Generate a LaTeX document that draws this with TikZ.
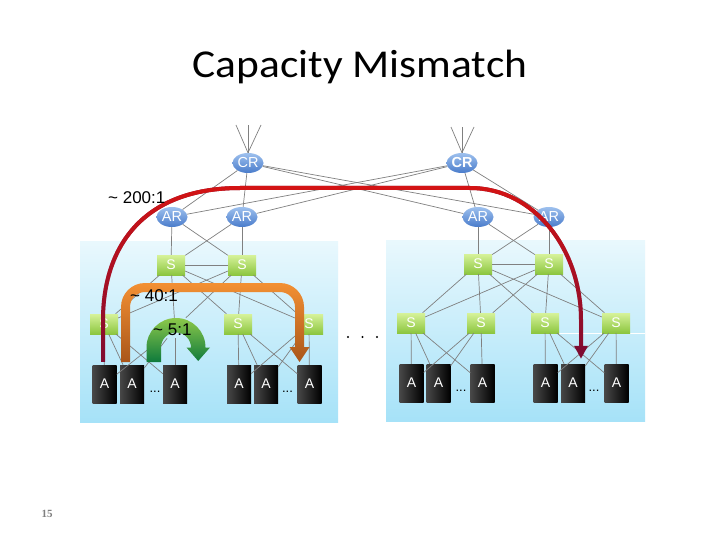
\documentclass[tikz,border=0pt]{standalone}
\usepackage{fontspec}
\usepackage{graphicx}
\setmainfont{Liberation Sans}
\newfontfamily\titlefont{Carlito}
\newfontfamily\numfont{Liberation Serif}
\usetikzlibrary{shapes.geometric,arrows.meta,fadings}
\definecolor{crtop}{HTML}{9DC0EE}
\definecolor{crbot}{HTML}{4A7CCB}
\definecolor{stop}{HTML}{D6F29A}
\definecolor{sbot}{HTML}{8CC63F}
\definecolor{linkgray}{HTML}{808080}
\definecolor{boxtop}{HTML}{E9F8FD}
\definecolor{boxbot}{HTML}{A6E2F8}
\definecolor{redtop}{HTML}{D41414}
\definecolor{maroon}{HTML}{7E0C32}
\definecolor{orangetop}{HTML}{F39033}
\definecolor{orangebot}{HTML}{A9561A}
\definecolor{greentop}{HTML}{8CC84A}
\definecolor{greenbot}{HTML}{0E7A3C}
\tikzfading[name=redfade, top color=transparent!0, middle color=transparent!20, bottom color=transparent!100]
\begin{document}
\begin{tikzpicture}[x=1pt,y=-1pt,
  router/.style={ellipse, minimum width=31pt, minimum height=20pt, inner sep=0pt,
     top color=crtop, bottom color=crbot, text=white, font=\fontsize{14.5}{14.5}\selectfont},
  sw/.style={rectangle, minimum width=28pt, minimum height=20pt, inner sep=0pt,
     top color=stop, bottom color=sbot, text=white, font=\fontsize{14}{14}\selectfont},
  host/.style={rectangle, minimum width=24pt, minimum height=38pt, inner sep=0pt,
     left color=black!72, right color=black, text=white, font=\fontsize{14}{14}\selectfont},
  hidden/.style={rectangle, minimum width=28pt, minimum height=20pt, inner sep=0pt},
  link/.style={draw=linkgray, line width=0.7pt},
  ratio/.style={anchor=west, inner sep=0pt, font=\fontsize{17}{17}\selectfont},
  dots/.style={anchor=base, inner sep=0pt, font=\fontsize{13}{13}\selectfont}]
\useasboundingbox (0,0) rectangle (720,540);
\fill[white] (0,0) rectangle (720,540);

% title and page number
\node[anchor=base, inner sep=0pt, font=\titlefont\fontsize{39.5}{39.5}\selectfont] (title) at (360,78) {\scalebox{1.1}[1]{Capacity Mismatch}};
\node[inner sep=0pt, text=gray, font=\numfont\bfseries\fontsize{11}{11}\selectfont] (pnum) at (47,514) {15};

% pods
\shade[top color=boxtop, bottom color=boxbot] (80,241) rectangle (338,422);
\shade[top color=boxtop, bottom color=boxbot] (386,240) rectangle (645,421);
\draw[white, line width=0.8pt] (543,333) -- (645,333);

% routers
\node[router] (CR1) at (248,163) {CR};
\node[router] (CR2) at (462,163) {\bfseries CR};
\node[router] (AR1) at (172,217) {AR};
\node[router] (AR2) at (242,217) {AR};
\node[router] (AR3) at (478,217) {AR};
\node[router] (AR4) at (549,217) {AR};
% aggregation switches
\node[sw] (SA1) at (171,265) {S};
\node[sw] (SA2) at (242,265) {S};
\node[sw] (SA3) at (478,264) {S};
\node[sw] (SA4) at (549,264) {S};
% ToR switches
\node[sw] (T1) at (104,324) {S};
\node[hidden] (T2) at (175,328) {};
\node[sw] (T3) at (238,324) {S};
\node[sw] (T4) at (309,324) {S};
\node[sw] (T5) at (411,323) {S};
\node[sw] (T6) at (481,323) {S};
\node[sw] (T7) at (545,323) {S};
\node[sw] (T8) at (616,323) {S};
% hosts
\node[host] (A1) at (104.5,384) {A};
\node[host] (A2) at (132,384) {A};
\node[host] (A3) at (175,384) {A};
\node[host] (A4) at (239,384) {A};
\node[host] (A5) at (266,384) {A};
\node[host] (A6) at (309.5,384) {A};
\node[host] (A7) at (411.5,383) {A};
\node[host] (A8) at (438.5,383) {A};
\node[host] (A9) at (482.5,383) {A};
\node[host] (A10) at (545.5,383) {A};
\node[host] (A11) at (573,383) {A};
\node[host] (A12) at (616.5,383) {A};
\node[dots] (d1) at (155,392) {...};
\node[dots] (d2) at (287.5,392) {...};
\node[dots] (d3) at (461,391) {...};
\node[dots] (d4) at (594,391) {...};
% dots between pods
\fill (348,337) circle (1.1) (362.5,337) circle (1.1) (377,337) circle (1.1);

% uplinks of the core routers
\coordinate (c1a) at (236,125); \coordinate (c1b) at (248,125); \coordinate (c1c) at (261,125);
\coordinate (c2a) at (451,127); \coordinate (c2b) at (462,127); \coordinate (c2c) at (474,127);
\foreach \t in {c1a,c1b,c1c} \draw[link] (CR1.north) -- (\t);
\foreach \t in {c2a,c2b,c2c} \draw[link] (CR2.north) -- (\t);

% links
\foreach \c in {CR1,CR2} \foreach \a in {AR1,AR2,AR3,AR4} \draw[link] (\c) -- (\a);
\foreach \a in {AR1,AR2} \foreach \s in {SA1,SA2} \draw[link] (\a) -- (\s);
\foreach \a in {AR3,AR4} \foreach \s in {SA3,SA4} \draw[link] (\a) -- (\s);
\draw[link] (SA1) -- (SA2);
\draw[link] (SA3) -- (SA4);
\foreach \s in {SA1,SA2} \foreach \t in {T1,T2,T3,T4} \draw[link] (\s) -- (\t);
\foreach \s in {SA3,SA4} \foreach \t in {T5,T6,T7,T8} \draw[link] (\s) -- (\t);
\foreach \t in {T1,T2} \foreach \h in {A1,A2,A3} \draw[link] (\t) -- (\h);
\foreach \t in {T3,T4} \foreach \h in {A4,A5,A6} \draw[link] (\t) -- (\h);
\foreach \t in {T5,T6} \foreach \h in {A7,A8,A9} \draw[link] (\t) -- (\h);
\foreach \t in {T7,T8} \foreach \h in {A10,A11,A12} \draw[link] (\t) -- (\h);

% red path (~200:1)
\draw[maroon, line width=4pt, -{Triangle[width=13pt,length=13pt]}]
  ([xshift=-1.5pt,yshift=3pt]A1.north) -- (103,320) .. controls (103,250) and (140,188) .. (240,188)
  -- (470,188) .. controls (535,188) and (581,250) .. (581,320) -- ([xshift=8pt,yshift=5pt]A11.north);
\draw[redtop, line width=4pt, path fading=redfade]
  ([xshift=-1.5pt,yshift=3pt]A1.north) -- (103,320) .. controls (103,250) and (140,188) .. (240,188)
  -- (470,188) .. controls (535,188) and (581,250) .. (581,320) -- ([xshift=8pt,yshift=18pt]A11.north);

% orange path (~40:1)
\shade[top color=orangetop, middle color=orangetop, bottom color=orangebot]
  (121,362) -- (121,307) .. controls (121,293.7) and (131.7,283) .. (145,283) -- (280,283)
  .. controls (293.3,283) and (304,293.7) .. (304,307) -- (304,347) -- (309.5,347) -- (299.5,362)
  -- (289.5,347) -- (295,347) -- (295,307) .. controls (295,298.7) and (288.3,292) .. (280,292)
  -- (145,292) .. controls (136.7,292) and (130,298.7) .. (130,307) -- (130,362) -- cycle;

% green path (~5:1)
\shade[top color=greentop, bottom color=greenbot]
  (146.5,362) -- (146.5,347.5) .. controls (146.5,331.2) and (159.7,318) .. (176,318)
  .. controls (192.3,318) and (205.5,331.2) .. (205.5,347.5) -- (210,347.5) -- (198.2,361)
  -- (186.5,347.5) -- (191,347.5) .. controls (191,339.2) and (184.3,332.5) .. (176,332.5)
  .. controls (167.7,332.5) and (161,339.2) .. (161,347.5) -- (161,362) -- cycle;

% ratio labels
\node[ratio] (r200) at (108,198) {\textasciitilde{} 200:1};
\node[ratio] (r40) at (130,296) {\textasciitilde{} 40:1};
\node[ratio] (r5) at (153,330) {\textasciitilde{} 5:1};
\end{tikzpicture}
\end{document}
